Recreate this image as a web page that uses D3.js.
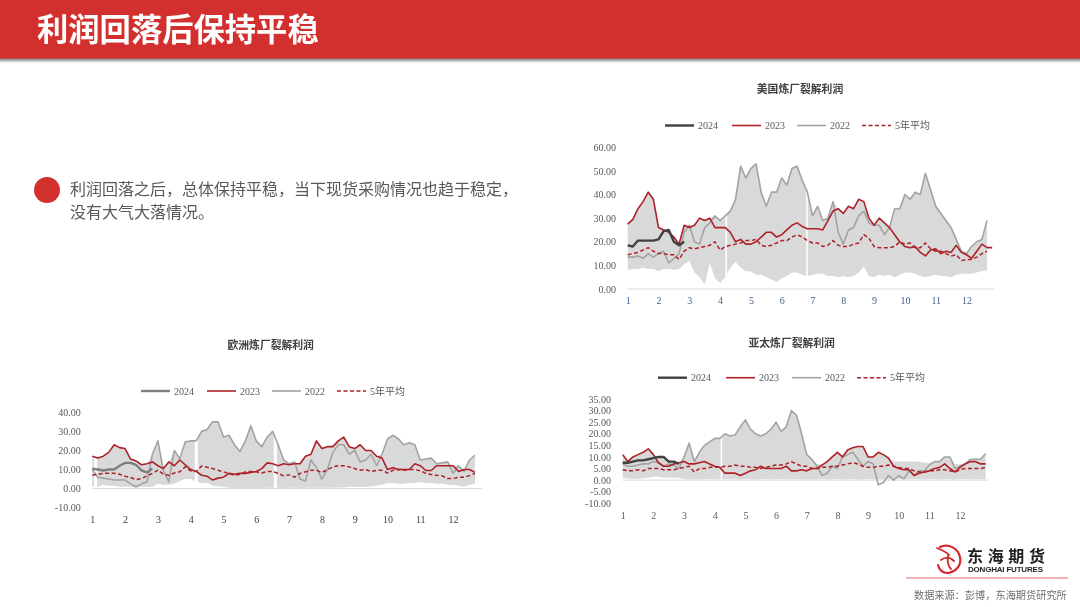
<!DOCTYPE html>
<html>
<head>
<meta charset="utf-8">
<script src="https://cdn.jsdelivr.net/npm/d3@7/dist/d3.min.js"></script>
<style>
html,body{margin:0;padding:0;background:#fff;overflow:hidden}
svg{display:block;filter:blur(0.35px)}
</style>
</head>
<body>
<svg id="c" width="1080" height="607"></svg>
<script>
// ---------- values: six samples per month, from month 1 ----------
const SAMPLES_PER_MONTH = 6;
const months = [1,2,3,4,5,6,7,8,9,10,11,12];

const usTicks = [0,10,20,30,40,50,60];
const us2024 = [18.5,18,20.5,20.5,20.5,20.5,21,24.5,25,20,18.5,20];
const us2023 = [27.5,29.5,34,37,41,38,26,25,24,22,19,27,26,27,30,29,30,26,26,26,24,20,21,19,19,20,22,24,24,22,23,25,27,28,26.5,25.5,25.5,25.5,25,29,33,34,32,35,34,38,37,30,27,30,28,26,23,20,18,17.5,18,15.5,14,16.5,17,15,16,15.5,18.5,15.5,14.5,13,16,19,17.5,17.5];
const us2022 = [13.5,13.5,14,13,15,13.5,15,16,11,13,15,24,27,20,19,26,28,31,29,31,33,38,52,47,51,53,41,35,41,41,47,44,51,52,46,41,31,35,29,30,37,24,19,25,26,31,33,28,27,27,23,26,34,34,40,38,41,40,49,42,35,32,29,26,21,16,15,18,20,21,29];
const usAvg  = [14.5,15,15.5,16.5,17.5,16,15,15,14.5,14.5,12.5,16,17.5,17,17.5,18,18.5,20,16.5,18,18.5,19,19.5,20.5,20.5,21,18.5,18,18.5,19.5,20.5,20.5,22,23,22,20.5,19.5,19.5,18,18.5,20.5,18.5,18,18,19,19.5,23,21.5,18,17.5,17.5,17.5,18,20,19,19.5,17.5,17.5,19.5,17,16,16,15,14,14.5,12,12.5,12.5,13.5,15,16];
const usHigh = [27.5,29.5,34,37,41,38,26,25,25,22,19,27,27,27,30,29,30,31,29,31,33,38,52,47,51,53,41,35,41,41,47,44,51,52,46,41,31,35,29,30,37,34,32,35,34,38,37,30,27,30,28,26,34,34,40,38,41,40,49,42,35,32,29,26,21,16,15,18,20,21,29];
const usLow  = [8,8.5,8.5,9,8.5,8.5,7.5,8.5,8.5,8,8.5,10.5,12,7,5,2,11,4.5,2.5,5,9,11.5,9,7.5,7.5,6,6,5,4,3,4.5,5.5,7,7,6,5.5,6,6.5,6.5,5.5,5.5,5,5.5,5,5.5,7,9.5,5.5,5,6,5.5,6,5,6,7,7,6.5,5.5,5,5.5,6,5.5,5.5,5,6,6.5,6.5,6.5,7,7.5,8];
const usGaps = [4.2,6.82];

const euTicks = [-10,0,10,20,30,40];
const eu2024 = [10.5,10,9.5,10,10,12,13.5,13.5,12.5,9.5,8.5,10.5];
const eu2023 = [17,16,17,19,23,21.5,21,15.5,14.5,12.5,13,14,12,10.5,14,12,15,12.5,10,9,7,6.5,4.5,5.5,6,8,7.5,8,8,8.5,9,10.5,13.5,13,12,13,12.5,13,13,17,18,25,21,22,22,25,27,22,21,23,20,20,17,16,10,11,10,10,10,13,12,9.5,9.5,12,12,12,12,9,10,10,8.5];
const eu2022 = [10,6,5.5,5,4.5,4.5,4.5,2.5,1,2.5,3.5,18,25,9.5,3.5,20,15.7,24.5,25,25,30,31,35,35,27,28,23,19.5,25,33,25,22,27,30,23,15,13,14,5,4,15,11,5,10,19,23,23,18,20,14,15,18,12,18,26,28,26,23,24,23,15,15.5,16,13,13.5,14,8,12,9,15,17.5];
const euAvg  = [7,7.5,8,8,8,7.5,6.5,5.8,4.7,5.3,6.7,8,9.7,7.5,7,8.2,8.8,11.4,9.3,9,11.8,11.2,10.5,9.6,8.8,8,7,7.5,8.8,9,8.8,8.2,9,9,8,6.7,7.2,6,8,8.8,9.6,9.6,8.4,10,11.4,12,12,11.4,10.5,9.6,10,9,9.6,9.6,8.2,9.6,10,9.6,10,10,9.3,8,7.4,7,6.7,5.3,5.3,6,6,6.8,8];
const euHigh = [17,16,17,19,23,21.5,21,15.5,14.5,12.5,13,18,25,10.5,14,20,15.7,24.5,25,25,30,31,35,35,27,28,23,19.5,25,33,25,22,27,30,23,15,13,14,13,17,18,25,21,22,22,25,27,22,21,23,20,20,17,18,26,28,26,23,24,23,15,15.5,16,13,13.5,14,12,12,10,15,17.5];
const euLow  = [1,1,2,1.5,1.5,1,1,1,0.5,0.8,1,1,2.5,2,2,2.5,4,5,5,3.5,3,3,1.5,1.2,0.8,0.5,0.3,0.3,0.4,0.3,0.5,0.3,0.4,0.5,0.4,0.3,0.5,0.4,0.3,0.5,0.4,0.5,0.4,0.5,0.5,0.6,0.6,1,1,0.8,0.9,1.2,1.5,2,3,3,2.5,2.5,3,3,3.5,3,3,2.5,2.5,2,2,1.5,1,2,2.6];
const euGaps = [1.1,4.17,6.58];

const apTicks = [-10,-5,0,5,10,15,20,25,30,35];
const ap2024 = [7.5,7.5,8,8.5,8.5,9,9.5,10,10,8,8,7];
const ap2023 = [11,8,10,11,12,13.5,11,7.5,6,6,7,7.5,8,7,7,7.5,8,7,6,5.5,3,3,3,2,3,4,4.5,6,5,5,5,5,6,4,4,4.5,4,5,5,6.5,8,10,12,10,13,14,14.5,14.5,10,10,12,11,9.5,6,5,4.5,4.5,2,3,3.5,4,5,5.5,7,5,3.5,5.5,7,8,8,7,7];
const ap2022 = [7,6,6,6.5,7,7,8,7.5,6,7,6.5,5,10,16,8,12,15,16.5,18,18,20,19,19.5,23,26,22,20,19,20,22,25,21,23,30,28,20,11,9,6,2,3,6,5,10,11,12,9,6,8,7,-2,-1,2,0,2,0.5,4,2,4,4,6.5,8,8,10,10,5,6,7,9,9,9,11.5];
const apAvg  = [4.5,4,4,4.5,4,5,5,5,4.5,4.5,4.5,5,5.5,6,3.5,5,5,5.5,5.5,5.5,6,6,6.5,6,6,5.5,5.5,5,5.5,6,6.5,6.5,7,8,7,6,6,5,5,5.5,5.5,6,6,6.5,7,7.5,7,6,5.5,5.5,6,6,6.5,6,5.5,5,5,4,3.5,3.5,4,4,4.5,4.5,4,3.5,4.5,5,5,5,5,5.5];
const apHigh = [11,8,10,11,12,13.5,11,10,10,8.5,8,7.5,10,16,8,12,15,16.5,18,18,20,19,19.5,23,26,22,20,19,20,22,25,21,23,30,28,20,11,9,7,7,8,10,12,10,13,14,14.5,14.5,10,10,12,11,9.5,8,8,8,8,8,8,7.5,7.5,8,8,10,10,7,7,7.5,9,9,9,11.5];
const apLow  = [1,0.7,0.6,0.6,0.8,1,1.5,1.5,1,1,1,1,0.5,0.3,0.4,0.3,0.5,0.4,0.3,0.5,0.4,0.5,0.4,0.3,0.5,0.4,0.3,0.5,0.4,0.3,0.5,0.4,0.3,0.5,0.4,0.3,0.3,0.4,0.3,0.5,0.4,0.3,0.5,0.4,0.3,0.5,0.4,0.3,0.5,0.4,0.3,0.3,0.4,0.3,0.5,0.4,0.3,0.5,0.4,0.3,0.5,0.4,0.3,0.5,0.4,0.3,0.5,0.4,0.3,0.5,0.4,0.3];
const apGaps = [4.22];

const legendNames = ["2024","2023","2022","5年平均"];
const headline = "利润回落后保持平稳";
const bodyLines = ["利润回落之后，总体保持平稳，当下现货采购情况也趋于稳定，","没有大气大落情况。"];
const sourceText = "数据来源：彭博，东海期货研究所";

// ---------- layout ----------
const RED="#d2302f", CJK='"Noto Sans CJK SC","Noto Sans",sans-serif', SERIF='"Liberation Serif",serif';
const svg=d3.select("#c");
const defs=svg.append("defs");
const sh=defs.append("linearGradient").attr("id","sh").attr("x1",0).attr("x2",0).attr("y1",0).attr("y2",1);
sh.append("stop").attr("offset",0).attr("stop-color","#707070");
sh.append("stop").attr("offset",1).attr("stop-color","#fff");

svg.append("rect").attr("x",0).attr("y",58).attr("width",1080).attr("height",5).attr("fill","url(#sh)");
svg.append("rect").attr("x",0).attr("y",0).attr("width",1080).attr("height",58.5).attr("fill",RED);
svg.append("text").attr("x",37).attr("y",41).attr("fill","#fff")
  .style("font",`700 31.3px ${CJK}`).text(headline);

svg.append("circle").attr("cx",47).attr("cy",190).attr("r",13).attr("fill",RED);
svg.selectAll(".body").data(bodyLines).join("text").attr("class","body")
  .attr("x",70).attr("y",(d,i)=>195+i*23).attr("fill","#595959")
  .style("font",`400 16px ${CJK}`).text(d=>d);

const fmt=d3.formatLocale({decimal:".",thousands:",",grouping:[3],currency:["",""],minus:"-"}).format(".2f");

function panel(p){
  const g=svg.append("g");
  const x=d3.scaleLinear().domain([1,13]).range([p.x0,p.x0+p.mw*12]);
  const y=d3.scaleLinear().domain([p.yMin,p.yMax]).range([p.yBottom,p.yTop]);
  const mx=(d,i)=>x(1+i/SAMPLES_PER_MONTH);

  g.append("text").attr("x",p.tx).attr("y",p.ty).attr("text-anchor","middle").attr("fill","#404040")
    .style("font",`700 10.8px ${CJK}`).text(p.title);

  const band=d3.area().x(mx).y0((d,i)=>y(p.low[i])).y1(d=>y(d));
  g.append("path").attr("d",band(p.high)).attr("fill","#d9d9d9");
  g.selectAll(".gap").data(p.gaps).join("line")
    .attr("x1",d=>x(d)).attr("x2",d=>x(d)).attr("y1",y(p.yMax)).attr("y2",y(0)+1)
    .attr("stroke","#fff").attr("stroke-width",p.gapW);

  g.append("line").attr("x1",x(1)).attr("x2",x(1)+p.mw*p.axisEnd).attr("y1",y(0)).attr("y2",y(0))
    .attr("stroke","#d9d9d9").attr("stroke-width",1);

  const ay=g.append("g").attr("transform",`translate(${p.yLabelX},0)`)
    .call(d3.axisLeft(y).tickValues(p.ticks).tickSize(0).tickPadding(0).tickFormat(fmt));
  const ax=g.append("g").attr("transform",`translate(0,${p.xLabelY})`)
    .call(d3.axisBottom(x).tickValues(months).tickSize(0).tickPadding(0).tickFormat(d3.format("d")));
  ay.select(".domain").remove(); ax.select(".domain").remove();
  ay.selectAll("text").attr("fill","#595959").style("font",`10px ${SERIF}`).attr("dy","0.32em");
  ax.selectAll("text").attr("fill",p.xColor).style("font",`10px ${SERIF}`).attr("dy","0.32em").attr("y",0);

  const line=d3.line().x(mx).y(d=>y(d));
  const styles=[
    {s:p.c24,w:2.4,d:null},
    {s:"#ad2128",w:1.6,d:null},
    {s:"#a3a3a3",w:1.6,d:null},
    {s:"#ad2128",w:1.5,d:"4 2.5"}
  ];
  [p.s22,p.s23,p.avg,p.s24].forEach((v,k)=>{
    const st=[styles[2],styles[1],styles[3],styles[0]][k];
    g.append("path").attr("d",line(v)).attr("fill","none").attr("stroke",st.s)
      .attr("stroke-width",st.w).attr("stroke-dasharray",st.d).attr("stroke-linejoin","round");
  });

  legendNames.forEach((n,k)=>{
    const lx=p.legendX[k], st=styles[k];
    g.append("line").attr("x1",lx).attr("x2",lx+29).attr("y1",p.legendY).attr("y2",p.legendY)
      .attr("stroke",st.s).attr("stroke-width",st.w).attr("stroke-dasharray",st.d);
    g.append("text").attr("x",lx+33).attr("y",p.legendY+3.5).attr("fill","#595959")
      .style("font",`10px ${SERIF},"Noto Sans CJK SC"`).text(n);
  });
}

panel({title:"美国炼厂裂解利润",tx:800,ty:93,x0:627.7,mw:30.8,axisEnd:11.9,
  yMin:0,yMax:60,yBottom:289,yTop:147.3,ticks:usTicks,yLabelX:616,xLabelY:301,xColor:"#44608c",
  low:usLow,high:usHigh,gaps:usGaps,gapW:1.6,s24:us2024,s23:us2023,s22:us2022,avg:usAvg,c24:"#404040",
  legendX:[665,732,797,862],legendY:125.5});
panel({title:"欧洲炼厂裂解利润",tx:270.7,ty:349,x0:92.3,mw:32.8,axisEnd:11.9,
  yMin:-10,yMax:40,yBottom:507.7,yTop:412.3,ticks:euTicks,yLabelX:80.7,xLabelY:519.5,xColor:"#404040",
  low:euLow,high:euHigh,gaps:euGaps,gapW:3,s24:eu2024,s23:eu2023,s22:eu2022,avg:euAvg,c24:"#7f7f7f",
  legendX:[141,207,272,337],legendY:391});
panel({title:"亚太炼厂裂解利润",tx:791.7,ty:347,x0:622.7,mw:30.67,axisEnd:11.95,
  yMin:-10,yMax:35,yBottom:503.3,yTop:399,ticks:apTicks,yLabelX:611,xLabelY:515.7,xColor:"#595959",
  low:apLow,high:apHigh,gaps:apGaps,gapW:1.6,s24:ap2024,s23:ap2023,s22:ap2022,avg:apAvg,c24:"#404040",
  legendX:[658,726,792,857],legendY:377.7});

// ---------- logo and source ----------
const logo=svg.append("g").attr("fill","none").attr("stroke","#d8262c").attr("stroke-linecap","round");
logo.append("path").attr("stroke-width",2.2).attr("d","M940 547 C948 543 958 548 960 557 C962 566 955 572 948 573 C942 573 939 569 938 565");
logo.append("path").attr("stroke-width",1.8).attr("d","M937 548 C942 550 946 552 949 555 M941 560 C945 557 950 557 954 561 M948 556 C947 562 948 566 951 569");
svg.append("text").attr("x",967).attr("y",562).attr("fill","#1f1f1f").attr("textLength",78)
  .style("font",`700 16px ${CJK}`).text("东海期货");
svg.append("text").attr("x",968).attr("y",572).attr("fill","#1f1f1f").attr("textLength",75)
  .style("font",`900 8px "Liberation Sans",sans-serif`).text("DONGHAI FUTURES");
svg.append("line").attr("x1",906).attr("x2",1068).attr("y1",578).attr("y2",578).attr("stroke","#e8686a").attr("stroke-width",1.2);
svg.append("text").attr("x",914).attr("y",599).attr("fill","#6f6f6f")
  .style("font",`400 10.2px ${CJK}`).text(sourceText);
</script>
</body>
</html>
